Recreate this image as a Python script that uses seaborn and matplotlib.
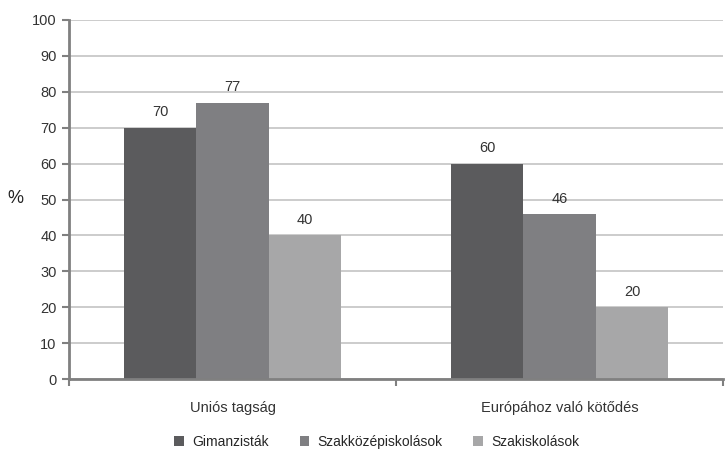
import matplotlib
matplotlib.use("Agg")
import matplotlib.pyplot as plt
import seaborn as sns
import pandas as pd
from matplotlib.patches import Patch

categories = ["Uniós tagság", "Európához való kötődés"]
series = ["Gimanzisták", "Szakközépiskolások", "Szakiskolások"]
gimn = [70, 60]
szakkozep = [77, 46]
szakisk = [40, 20]
yticks = [0, 10, 20, 30, 40, 50, 60, 70, 80, 90, 100]
colors = ["#5b5b5d", "#7f7f82", "#a7a7a8"]

rows = []
for s, vals in zip(series, [gimn, szakkozep, szakisk]):
    for c, v in zip(categories, vals):
        rows.append({"cat": c, "series": s, "val": v})
df = pd.DataFrame(rows)

sns.set_theme(style="white")
plt.rcParams["font.family"] = ["Liberation Sans", "DejaVu Sans"]

fig = plt.figure(figsize=(7.25, 4.54), dpi=100)
ax = fig.add_axes([0.0952, 0.165, 0.902, 0.791])

sns.barplot(data=df, x="cat", y="val", hue="series", order=categories,
            hue_order=series, palette=colors, width=0.665, saturation=1,
            edgecolor="none", linewidth=0, ax=ax, legend=False, errorbar=None)

for cont in ax.containers:
    ax.bar_label(cont, labels=[f"{int(v)}" for v in cont.datavalues],
                 padding=6, fontsize=10.5, color="#333333")

ax.set_ylim(0, 100)
ax.set_xlim(-0.5, 1.5)
ax.set_yticks(yticks)
ax.set_yticklabels([str(t) for t in yticks], fontsize=10.5, color="#333333")
ax.yaxis.grid(True, color="#c4c4c4", linewidth=1.2)
ax.set_axisbelow(True)
for sp in ["top", "right"]:
    ax.spines[sp].set_visible(False)
for sp in ["left", "bottom"]:
    ax.spines[sp].set_color("#808080")
    ax.spines[sp].set_linewidth(2)
ax.tick_params(axis="y", which="major", direction="out", length=5, width=1.5,
               color="#808080", left=True, pad=4)
ax.set_xticks([0, 1])
ax.set_xticklabels(categories, fontsize=10.5, color="#333333")
ax.tick_params(axis="x", which="major", length=0, pad=16)
ax.set_xticks([-0.5, 0.5, 1.5], minor=True)
ax.tick_params(axis="x", which="minor", direction="out", length=5, width=1.5,
               color="#808080", bottom=True)
ax.set_xlabel("")
ax.set_ylabel("")
fig.text(15 / 725, 1 - 198 / 454, "%", fontsize=13, color="#222222",
         ha="center", va="center")

handles = [Patch(facecolor=c, edgecolor="none") for c in colors]
fig.legend(handles, series, loc="center", bbox_to_anchor=(0.52, 0.026), ncol=3,
           frameon=False, fontsize=10, handlelength=0.7, handleheight=0.7,
           columnspacing=2.2, handletextpad=0.6)

fig.savefig("out.png", dpi=100)
